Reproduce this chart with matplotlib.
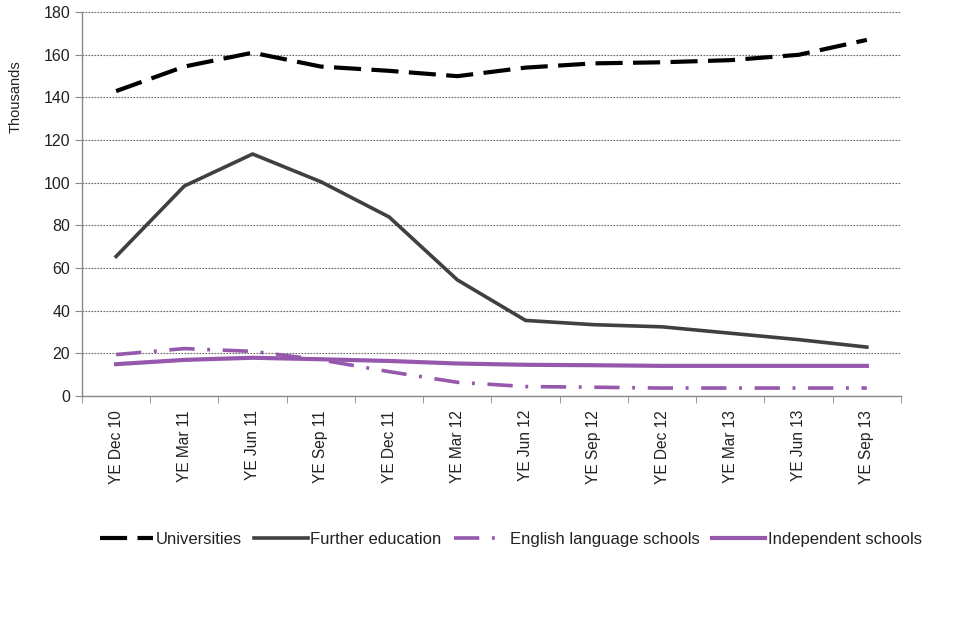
import matplotlib
matplotlib.use("Agg")
import matplotlib.pyplot as plt
import numpy as np

categories = ["YE Dec 10", "YE Mar 11", "YE Jun 11", "YE Sep 11", "YE Dec 11", "YE Mar 12",
              "YE Jun 12", "YE Sep 12", "YE Dec 12", "YE Mar 13", "YE Jun 13", "YE Sep 13"]
universities = [143, 154.5, 161, 154.5, 152.5, 150, 154, 156, 156.5, 157.5, 160, 167]
further_education = [65.5, 98.5, 113.5, 100.5, 84, 54.5, 35.5, 33.5, 32.5, 29.5, 26.5, 23]
english_language = [19.5, 22.3, 21, 17, 11.5, 6.5, 4.5, 4.2, 3.8, 3.8, 3.8, 3.8]
independent = [15, 17, 18, 17.3, 16.5, 15.3, 14.7, 14.5, 14.2, 14.2, 14.2, 14.2]
yticks = [0, 20, 40, 60, 80, 100, 120, 140, 160, 180]

plt.rcParams['font.family'] = ['Liberation Sans', 'DejaVu Sans']

fig = plt.figure(figsize=(9.6, 6.4), dpi=100)
ax = fig.add_axes([0.0854, 0.381, 0.8531, 0.600])

x = np.arange(len(categories))
purple = "#9558AD"
ax.plot(x, universities, color="black", lw=3, dashes=(6.5, 2.5), label="Universities")
ax.plot(x, further_education, color="#404040", lw=2.6, label="Further education")
ax.plot(x, english_language, color=purple, lw=2.6, dashes=(7, 3.5, 0.8, 3.5), label="English language schools")
ax.plot(x, independent, color=purple, lw=3, label="Independent schools")

ax.set_xlim(-0.5, len(categories) - 0.5)
ax.set_ylim(0, 180)
ax.set_yticks(yticks)
ax.set_yticklabels([str(v) for v in yticks], fontsize=11.5, color="#222222")
ax.yaxis.grid(True, linestyle=(0, (1.5, 1.2)), color="#666666", lw=0.8)
ax.set_axisbelow(True)

ax.set_xticks(x)
ax.set_xticklabels(categories, rotation=90, fontsize=11.2, color="#222222")
ax.tick_params(axis="x", which="major", length=0, pad=10)
ax.set_xticks(np.arange(-0.5, len(categories)), minor=True)
ax.tick_params(axis="x", which="minor", length=5, color="#888888", direction="out")
ax.tick_params(axis="y", length=5, color="#888888", direction="out")

ax.set_ylabel("Thousands", fontsize=10.5, color="#222222")
ax.yaxis.set_label_coords(-0.073, 0.78)

for s in ["top", "right"]:
    ax.spines[s].set_visible(False)
for s in ["left", "bottom"]:
    ax.spines[s].set_color("#888888")
    ax.spines[s].set_linewidth(1)

leg = fig.legend(loc="center", bbox_to_anchor=(0.532, 0.157), ncol=4, frameon=False,
                 fontsize=12, handlelength=3.2, handletextpad=0.15, columnspacing=0.75)
for t in leg.get_texts():
    t.set_color("#222222")

fig.savefig("out.png", dpi=100)
